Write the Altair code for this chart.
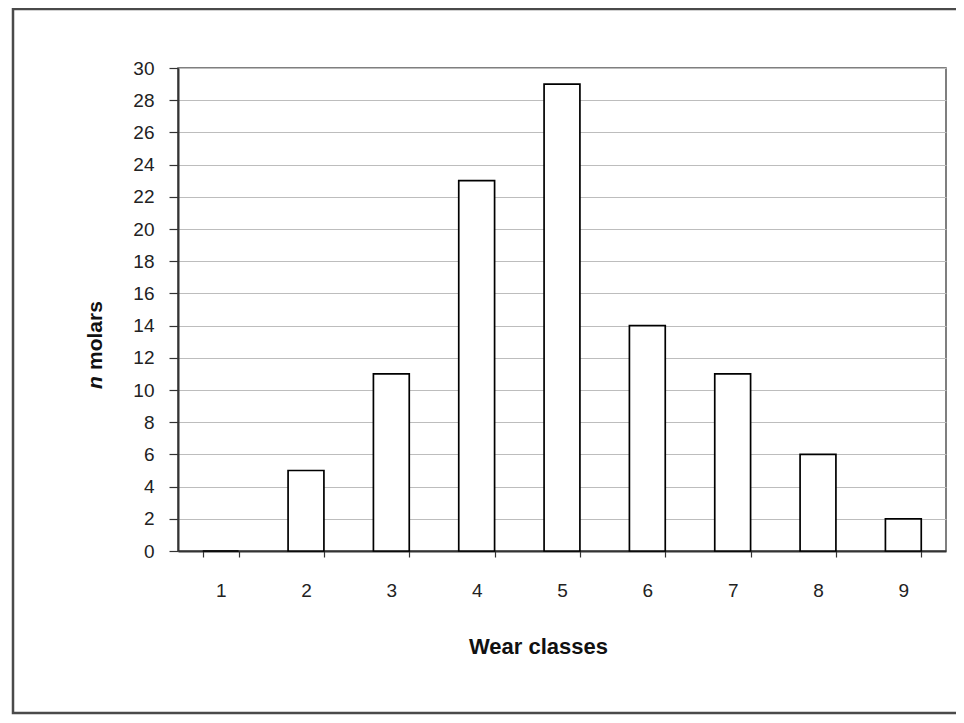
import altair as alt
import pandas as pd

classes = ["1", "2", "3", "4", "5", "6", "7", "8", "9"]
molars = [0, 5, 11, 23, 29, 14, 11, 6, 2]
y_ticks = list(range(0, 31, 2))

df = pd.DataFrame({"cls": classes, "n": molars})

FONT = "Liberation Sans"

bars = alt.Chart(df).mark_bar(fill="white", stroke="black", strokeWidth=1.7).encode(
    x=alt.X(
        "cls:N",
        sort=classes,
        scale=alt.Scale(paddingInner=0.58, paddingOuter=0.29),
        axis=alt.Axis(
            title="Wear classes",
            labelAngle=0,
            tickBand="extent",
            grid=False,
            tickSize=6,
            tickColor="#333",
            tickWidth=1.2,
            domainColor="#333",
            domainWidth=2,
            labelPadding=24,
            labelFontSize=19,
            labelColor="#222",
            titleFontSize=22,
            titleFontWeight="bold",
            titleColor="#111",
            titlePadding=36,
            titleX=360,
            titleAlign="center",
        ),
    ),
    y=alt.Y(
        "n:Q",
        scale=alt.Scale(domain=[0, 30], nice=False),
        axis=alt.Axis(
            values=y_ticks,
            title=None,
            grid=True,
            gridColor="#bdbdbd",
            gridWidth=1,
            tickSize=9,
            tickColor="#333",
            tickWidth=1.2,
            domainColor="#333",
            domainWidth=2,
            labelPadding=15,
            labelFontSize=19,
            labelColor="#222",
        ),
    ),
)

frame = alt.Chart(alt.Data(values=[{"a": 1}])).mark_rect(
    fillOpacity=0, stroke="#4a4a4a", strokeWidth=2.5
).encode(
    x=alt.value(-165), x2=alt.value(800), y=alt.value(-59), y2=alt.value(645)
)

title_n = alt.Chart(alt.Data(values=[{"a": 1}])).mark_text(
    angle=270, align="left", baseline="middle", font=FONT, fontSize=21,
    fontWeight="bold", fontStyle="italic", color="#111"
).encode(x=alt.value(-82), y=alt.value(321), text=alt.value("n"))

title_rest = alt.Chart(alt.Data(values=[{"a": 1}])).mark_text(
    angle=270, align="left", baseline="middle", font=FONT, fontSize=21,
    fontWeight="bold", color="#111"
).encode(x=alt.value(-82), y=alt.value(302), text=alt.value("molars"))

chart = alt.layer(bars, frame, title_n, title_rest).properties(
    width=768,
    height=483,
    padding={"left": 170, "top": 60, "right": 10, "bottom": 164},
    autosize=alt.AutoSizeParams(type="none"),
    background="white",
).configure_view(
    stroke="#555", strokeWidth=1.5
).configure_axis(
    labelFont=FONT, titleFont=FONT
)

chart.save("out.html", embed_options={"renderer": "svg", "actions": False})
